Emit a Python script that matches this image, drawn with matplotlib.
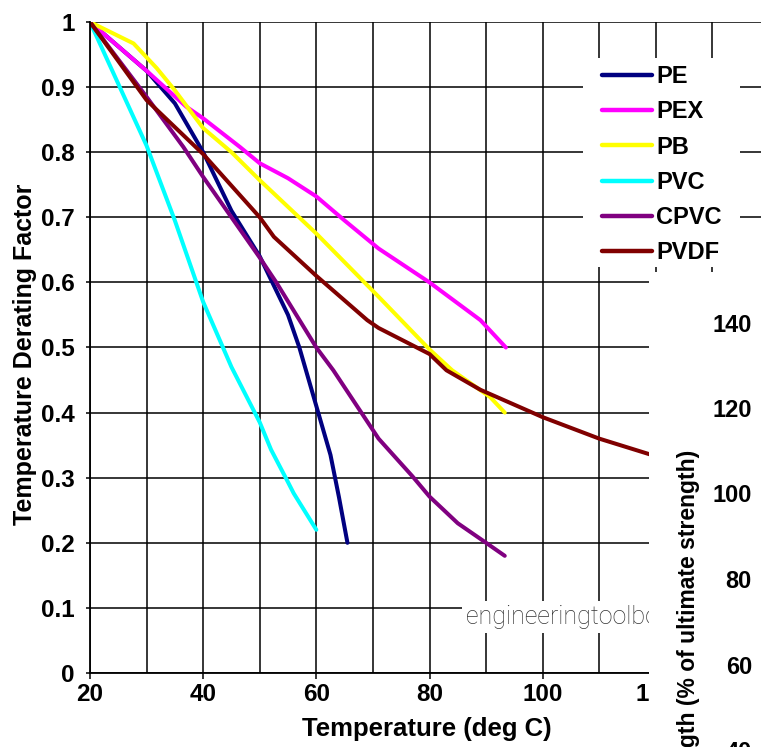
import matplotlib
matplotlib.use("Agg")
import matplotlib.pyplot as plt
from matplotlib.patches import Rectangle
from matplotlib.ticker import MultipleLocator, FormatStrFormatter

# Temperature derating factors for thermoplastic piping materials
pe_t = [20, 30, 35, 40, 45, 50, 55, 57, 60, 62.5, 64, 65.5]
pe_f = [1.0, 0.925, 0.875, 0.80, 0.71, 0.64, 0.55, 0.50, 0.41, 0.335, 0.27, 0.20]

pex_t = [20, 30, 37, 40, 46.5, 50, 55, 60, 65, 71, 80, 89, 93.5]
pex_f = [1.0, 0.925, 0.87, 0.852, 0.808, 0.783, 0.76, 0.732, 0.695, 0.652, 0.60, 0.542, 0.50]

pb_t = [20, 27.7, 31.8, 35, 40, 45, 50, 55, 60, 71, 80, 84, 90.7, 93.3]
pb_f = [1.0, 0.967, 0.929, 0.895, 0.837, 0.80, 0.757, 0.716, 0.675, 0.578, 0.497, 0.465, 0.424, 0.40]

pvc_t = [20, 30, 35, 40, 45, 50, 52, 55, 56, 60]
pvc_f = [1.0, 0.81, 0.695, 0.57, 0.47, 0.385, 0.343, 0.293, 0.276, 0.22]

cpvc_t = [20, 30, 36.5, 40, 45, 50, 53, 60, 63, 71, 77, 80, 85, 90, 93.3]
cpvc_f = [1.0, 0.885, 0.808, 0.762, 0.70, 0.638, 0.599, 0.50, 0.465, 0.36, 0.302, 0.271, 0.23, 0.20, 0.18]

pvdf_t = [20, 30, 40, 50, 52.5, 60, 69, 71, 80, 83, 89, 100, 110, 120]
pvdf_f = [1.0, 0.88, 0.797, 0.70, 0.67, 0.61, 0.542, 0.53, 0.49, 0.465, 0.435, 0.393, 0.36, 0.333]

series = [
    ("PE", pe_t, pe_f, "#000080"),
    ("PEX", pex_t, pex_f, "#FF00FF"),
    ("PB", pb_t, pb_f, "#FFFF00"),
    ("PVC", pvc_t, pvc_f, "#00FFFF"),
    ("CPVC", cpvc_t, cpvc_f, "#800080"),
    ("PVDF", pvdf_t, pvdf_f, "#800000"),
]

strength_ticks = ["140", "120", "100", "80", "60", "40"]

W, H = 761, 747
plt.rcParams["font.family"] = ["Liberation Sans", "DejaVu Sans"]
plt.rcParams["font.weight"] = "bold"

fig = plt.figure(figsize=(W / 100, H / 100), dpi=100)


def fx(px):
    return px / W


def fy(py):
    return 1 - py / H


# main axes, extending past the right edge of the canvas
left, right, top, bottom = 90, 769, 22, 673
ax = fig.add_axes([fx(left), fy(bottom), (right - left) / W, (bottom - top) / H])

for name, t, f, c in series:
    ax.plot(t, f, color=c, lw=2.9, label=name, solid_capstyle="round",
            solid_joinstyle="round", zorder=2)

ax.set_xlim(20, 140)
ax.set_ylim(0, 1)
ax.xaxis.set_major_locator(MultipleLocator(20))
ax.xaxis.set_minor_locator(MultipleLocator(10))
ax.yaxis.set_major_locator(MultipleLocator(0.1))
ax.yaxis.set_major_formatter(FormatStrFormatter("%g"))
ax.grid(True, which="both", color="black", lw=1.1)
ax.tick_params(axis="x", which="major", length=4, width=1.1, direction="out", pad=3,
               labelsize=17.5)
ax.tick_params(axis="x", which="minor", length=0)
ax.tick_params(axis="y", which="major", length=3, width=1.1, direction="out", pad=8,
               labelsize=17.5)
for lab in ax.get_xticklabels() + ax.get_yticklabels():
    lab.set_fontweight("bold")
for s in ("top", "right"):
    ax.spines[s].set_visible(False)
for s in ("left", "bottom"):
    ax.spines[s].set_linewidth(1.3)

ax.set_xlabel("Temperature (deg C)", fontsize=18.5, fontweight="bold", va="center")
ax.xaxis.set_label_coords((426.5 - left) / (right - left), (bottom - 729) / (bottom - top))
ax.set_ylabel("Temperature Derating Factor", fontsize=18, fontweight="bold", va="center")
ax.yaxis.set_label_coords((25 - left) / (right - left), (bottom - 354) / (bottom - top))

# legend panel
ax.add_patch(Rectangle((fx(583), fy(267)), (740 - 583) / W, (267 - 58) / H,
                       transform=fig.transFigure, facecolor="white", edgecolor="none",
                       clip_on=False, zorder=4.5))
leg = ax.legend(loc="upper left", bbox_to_anchor=(fx(602), fy(65)),
                bbox_transform=fig.transFigure, frameon=False, borderpad=0,
                borderaxespad=0, handlelength=2.1, handletextpad=0.2,
                labelspacing=0.52, prop={"size": 17, "weight": "bold"})
for h in leg.legend_handles:
    h.set_linewidth(3.2)

# site watermark
ax.text(fx(466), fy(617), "engineeringtoolbox.com", transform=fig.transFigure,
        ha="left", va="center", fontsize=18, color="#333333",
        family=["Roboto", "DejaVu Sans"], fontweight="light",
        bbox=dict(boxstyle="square,pad=0.15", facecolor="white", edgecolor="none"),
        zorder=6, clip_on=False)

# adjoining strength chart panel
fig.add_artist(Rectangle((fx(649), 0), (W - 649) / W, fy(272), transform=fig.transFigure,
                         facecolor="white", edgecolor="none", zorder=1))
for i, lab in enumerate(strength_ticks):
    fig.text(fx(752), fy(325 + 85.5 * i), lab, ha="right", va="center", fontsize=17,
             fontweight="bold", zorder=3)
fig.text(fx(688), fy(450), "Tensile Strength (% of ultimate strength)", rotation=90,
         ha="center", va="top", fontsize=16.5, fontweight="bold", zorder=3)

fig.savefig("out.png", dpi=100)
